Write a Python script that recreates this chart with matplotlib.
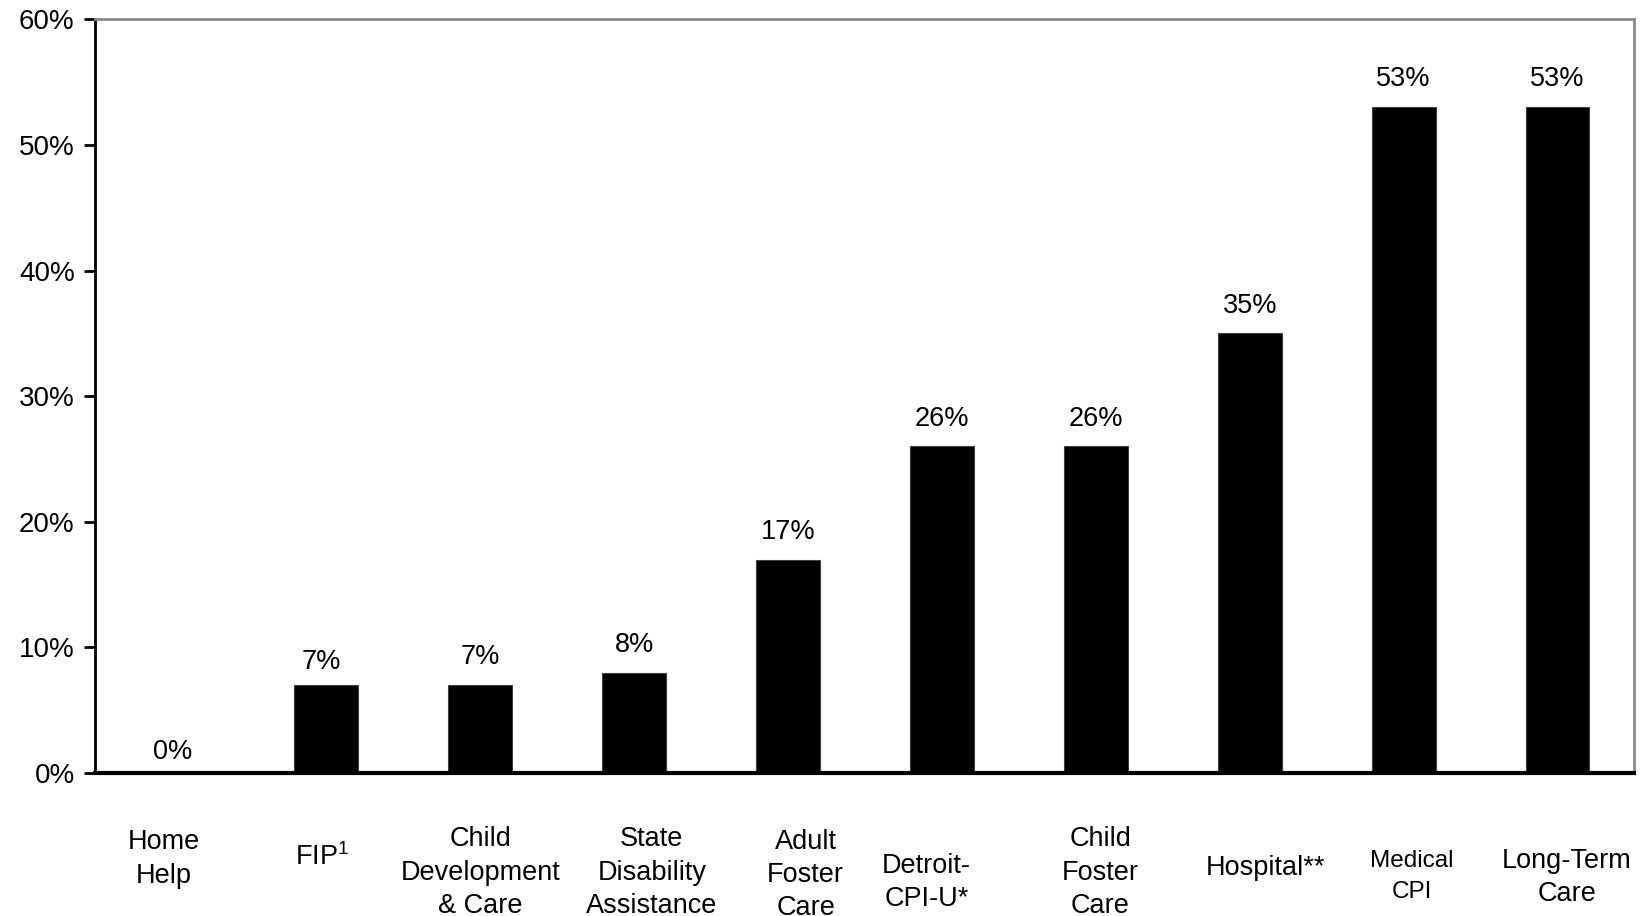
import matplotlib
matplotlib.use("Agg")
import matplotlib.pyplot as plt
import matplotlib.transforms as mtransforms

plt.rcParams['font.family'] = ['Liberation Sans', 'DejaVu Sans']
plt.rcParams['mathtext.fontset'] = 'custom'
plt.rcParams['mathtext.rm'] = 'Liberation Sans'
plt.rcParams['mathtext.it'] = 'Liberation Sans'

categories = ["Home\nHelp", "FIP$^{1}$", "Child\nDevelopment\n& Care", "State\nDisability\nAssistance",
              "Adult\nFoster\nCare", "Detroit-\nCPI-U*", "Child\nFoster\nCare", "Hospital**",
              "Medical\nCPI", "Long-Term\nCare"]
values = [0, 7, 7, 8, 17, 26, 26, 35, 53, 53]
value_labels = ["0%", "7%", "7%", "8%", "17%", "26%", "26%", "35%", "53%", "53%"]
yticks = [0, 10, 20, 30, 40, 50, 60]
ytick_labels = ["0%", "10%", "20%", "30%", "40%", "50%", "60%"]

# layout of labels (x offset in bar units, y centre in axes fraction, font size, value-label offset in pt)
label_dx = [-0.055, -0.03, 0.0, 0.115, 0.115, -0.10, 0.03, 0.10, 0.055, 0.06]
label_y = [-0.114, -0.111, -0.132, -0.132, -0.135, -0.145, -0.132, -0.126, -0.137, -0.139]
label_fs = [19.5, 19.5, 19.5, 19.5, 19.5, 19.5, 19.5, 19.5, 17.5, 19.5]
label_ls = [1.36, 1.36, 1.36, 1.36, 1.36, 1.36, 1.36, 1.36, 1.5, 1.36]
value_dy = [15, 17, 20, 20, 20, 20, 20, 20, 20, 20]
value_dx = [0, -3.5, 0, 0, 0, 0, 0, 0, 0, 0]

fig = plt.figure(figsize=(16.46, 9.16), dpi=100)
ax = fig.add_axes([0.058, 0.156, 0.935, 0.823])

x = list(range(len(values)))
ax.bar(x, values, width=0.415, color='black', edgecolor='#404040', linewidth=0.8, zorder=2)

ax.set_xlim(-0.5, len(values) - 0.5)
ax.set_ylim(0, 60)
ax.set_yticks(yticks)
ax.set_yticklabels(ytick_labels, fontsize=20)
ax.set_xticks([])
ax.tick_params(axis='y', direction='out', length=8, width=2, pad=7, colors='black')

for side in ['left', 'bottom']:
    ax.spines[side].set_color('black')
ax.spines['left'].set_linewidth(2)
ax.spines['bottom'].set_linewidth(3)
for side in ['top', 'right']:
    ax.spines[side].set_color('#8a8a8a')
    ax.spines[side].set_linewidth(2)

for xi, v, lab, dy, dx in zip(x, values, value_labels, value_dy, value_dx):
    ax.annotate(lab, (xi, v), xytext=(dx, dy), textcoords='offset points',
                ha='center', va='center', fontsize=19.5)

trans = mtransforms.blended_transform_factory(ax.transData, ax.transAxes)
for xi, cat, dx, yy, fs, ls in zip(x, categories, label_dx, label_y, label_fs, label_ls):
    ax.text(xi + dx, yy, cat, transform=trans, ha='center', va='center',
            fontsize=fs, linespacing=ls, multialignment='center', clip_on=False)

fig.savefig("out.png", dpi=100)
